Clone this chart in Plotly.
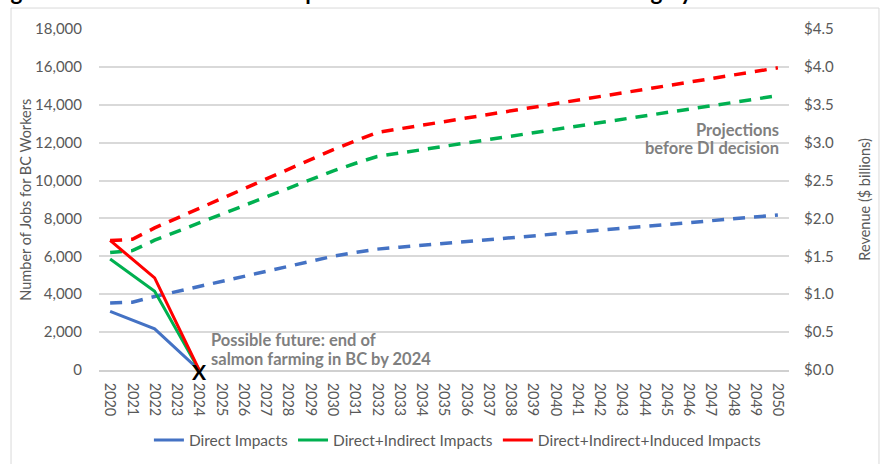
import plotly.graph_objects as go

years = [str(y) for y in range(2020, 2051)]

# Projections before DI decision (dashed)
direct_proj = [3540, 3580, 3880, 4150, 4410, 4680, 4940, 5210, 5470, 5740, 6000,
               6200, 6380, 6480, 6580, 6680, 6780, 6880, 6980, 7080, 7180,
               7280, 7380, 7480, 7580, 7680, 7780, 7880, 7980, 8080, 8180]
indirect_proj = [6200, 6300, 6850, 7310, 7760, 8220, 8680, 9130, 9590, 10040, 10500,
                 10900, 11270, 11450, 11630, 11810, 11990, 12170, 12350, 12530, 12710,
                 12890, 13060, 13240, 13420, 13590, 13770, 13950, 14130, 14300, 14480]
induced_proj = [6830, 6900, 7500, 8020, 8540, 9060, 9580, 10100, 10620, 11130, 11620,
                12080, 12540, 12730, 12920, 13110, 13300, 13490, 13680, 13870, 14060,
                14240, 14430, 14620, 14810, 15000, 15190, 15380, 15570, 15760, 15950]

# Possible future: end of salmon farming by 2024 (solid)
direct_future = [3100, None, 2170, None, 0] + [None] * 26
indirect_future = [5860, None, 4150, None, 0] + [None] * 26
induced_future = [6840, None, 4860, None, 0] + [None] * 26

series_names = ["Direct Impacts", "Direct+Indirect Impacts", "Direct+Indirect+Induced Impacts"]
colors = ["#4472C4", "#00B050", "#FF0000"]

FONT = "Lato"
GREY = "#595959"
NOTE = "#7f7f7f"

fig = go.Figure()

for vals, col in zip([direct_proj, indirect_proj, induced_proj], colors):
    fig.add_trace(go.Scatter(x=years, y=vals, mode="lines", showlegend=False,
                             line=dict(color=col, width=3.5, dash="12px,9px"),
                             hoverinfo="skip"))

for vals, col, name in zip([direct_future, indirect_future, induced_future], colors, series_names):
    fig.add_trace(go.Scatter(x=years, y=vals, mode="lines", name=name, connectgaps=True,
                             line=dict(color=col, width=3)))

# empty trace so that the revenue axis is drawn
fig.add_trace(go.Scatter(x=years[:1], y=[None], yaxis="y2", mode="lines",
                         showlegend=False, hoverinfo="skip"))

fig.update_layout(
    width=884, height=464,
    margin=dict(l=99, r=95, t=29, b=93.5, pad=0, autoexpand=False),
    paper_bgcolor="white", plot_bgcolor="white",
    font=dict(family=FONT, size=15, color=GREY),
    showlegend=True,
    legend=dict(orientation="h", xref="container", yref="container",
                x=0.518, xanchor="center", y=0.051, yanchor="middle",
                font=dict(family=FONT, size=15.5, color=GREY), bgcolor="rgba(0,0,0,0)"),
    xaxis=dict(type="category", range=[-0.5, 30.5], tickangle=90, showgrid=False,
               showline=True, linecolor="#d0d0d0", linewidth=1.5, ticks="", automargin=False,
               tickfont=dict(family=FONT, size=14.5, color=GREY), ticklabelstandoff=8,
               fixedrange=True),
    yaxis=dict(range=[0, 18000], dtick=2000, tickformat=",d", showgrid=True,
               gridcolor="#d9d9d9", gridwidth=1.5, zeroline=False, ticks="", automargin=False,
               ticklabelstandoff=16,
               tickfont=dict(family=FONT, size=15, color=GREY)),
    yaxis2=dict(range=[0, 4.5], dtick=0.5, tickformat="$.1f", overlaying="y", side="right",
                anchor="x", showgrid=False, zeroline=False, ticks="", ticklabelstandoff=14,
                automargin=False,
                tickfont=dict(family=FONT, size=15, color=GREY)),
)

# chart border
fig.add_shape(type="rect", xref="paper", yref="paper",
              x0=-0.1275, x1=1.1304, y0=-0.4, y1=1.0615,
              line=dict(color="#d9d9d9", width=1), layer="below")

# axis titles
fig.add_annotation(xref="paper", yref="paper", x=-0.107, y=0.5, xanchor="center", yanchor="middle",
                   text="Number of Jobs for BC Workers", textangle=-90, showarrow=False,
                   font=dict(family=FONT, size=14.5, color=GREY))
fig.add_annotation(xref="paper", yref="paper", x=1.109, y=0.5, xanchor="center", yanchor="middle",
                   text="Revenue ($ billions)", textangle=-90, showarrow=False,
                   font=dict(family=FONT, size=14.5, color=GREY))

# cropped title
fig.add_annotation(xref="paper", yref="paper", x=-0.158, y=1.0645, xanchor="left", yanchor="bottom",
                   text="<b>Figure 1: Possible future consequences – end of BC salmon farming by 2024</b>",
                   showarrow=False, font=dict(family=FONT, size=22.5, color="black"))

fig.add_annotation(x=4, y=0, text="<b>X</b>", showarrow=False,
                   font=dict(family=FONT, size=21, color="black"), yshift=-1)

fig.add_annotation(x=4, y=1600, xanchor="left", yanchor="middle", align="left", xshift=10,
                   text="<b>Possible future: end of</b>",
                   showarrow=False, font=dict(family=FONT, size=16.5, color=NOTE))
fig.add_annotation(x=4, y=600, xanchor="left", yanchor="middle", align="left", xshift=10,
                   text="<b>salmon farming in BC by 2024</b>",
                   showarrow=False, font=dict(family=FONT, size=16.5, color=NOTE))

fig.add_annotation(xref="paper", x=0.988, y=12650, xanchor="right", yanchor="middle", align="right",
                   text="<b>Projections</b>",
                   showarrow=False, font=dict(family=FONT, size=16.5, color=NOTE))
fig.add_annotation(xref="paper", x=0.988, y=11700, xanchor="right", yanchor="middle", align="right",
                   text="<b>before DI decision</b>",
                   showarrow=False, font=dict(family=FONT, size=16.5, color=NOTE))

fig.write_html("out.html")
